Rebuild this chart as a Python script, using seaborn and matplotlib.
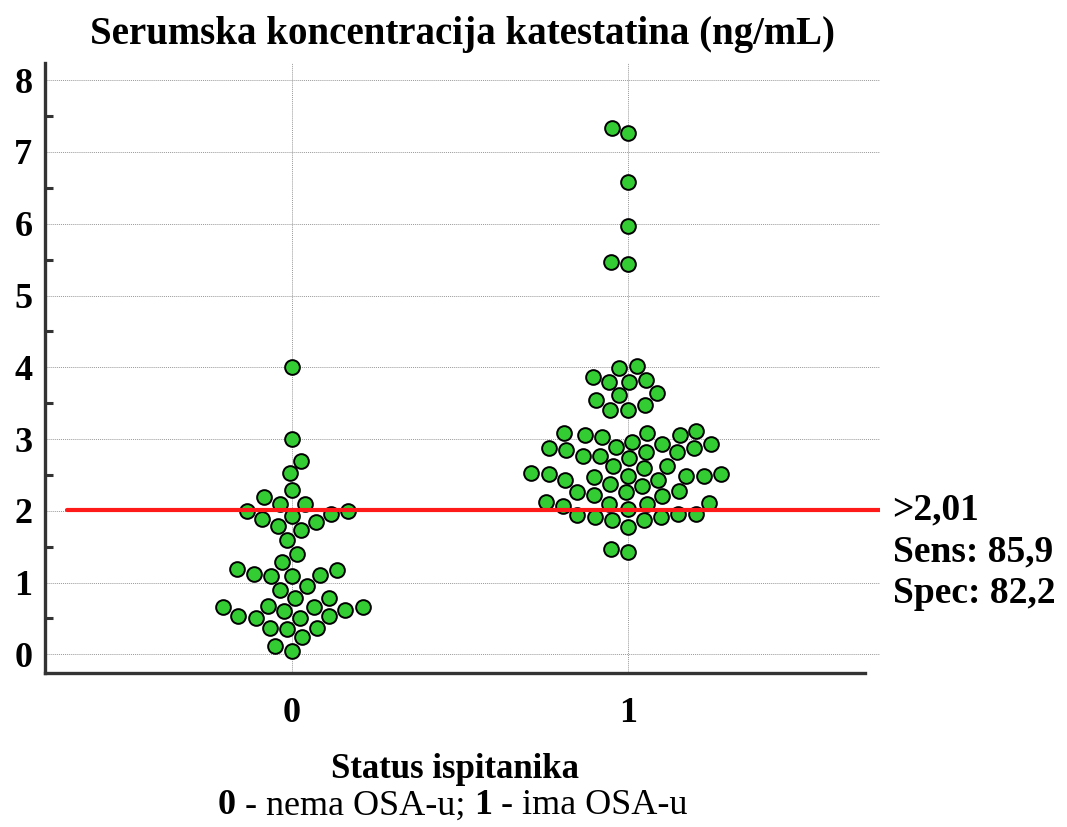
import pandas as pd
import matplotlib
matplotlib.use("Agg")
import matplotlib.pyplot as plt
import seaborn as sns

# Values (ng/mL)
status_labels = ["0", "1"]
group0_values = [4.0, 3.0, 2.69, 2.52, 2.29, 2.19, 2.10, 2.09, 2.0, 2.0, 1.96, 1.93,
                 1.89, 1.84, 1.79, 1.73, 1.59, 1.40, 1.28, 1.19, 1.17, 1.12, 1.11,
                 1.09, 1.09, 0.95, 0.89, 0.78, 0.78, 0.68, 0.66, 0.66, 0.66, 0.62,
                 0.60, 0.54, 0.53, 0.51, 0.51, 0.37, 0.37, 0.36, 0.24, 0.11, 0.05]
group1_values = [7.34, 7.26, 6.58, 5.97, 5.47, 5.44, 4.02, 3.99, 3.87, 3.82, 3.80,
                 3.80, 3.64, 3.61, 3.54, 3.48, 3.41, 3.41, 3.11, 3.08, 3.08, 3.05,
                 3.05, 3.03, 2.96, 2.93, 2.93, 2.89, 2.87, 2.87, 2.85, 2.82, 2.82,
                 2.77, 2.77, 2.73, 2.63, 2.62, 2.59, 2.53, 2.51, 2.51, 2.49, 2.49,
                 2.49, 2.47, 2.43, 2.43, 2.37, 2.34, 2.28, 2.26, 2.26, 2.22, 2.20,
                 2.12, 2.11, 2.10, 2.10, 2.07, 2.03, 1.96, 1.96, 1.94, 1.91, 1.91,
                 1.87, 1.87, 1.78, 1.47, 1.43]
cutoff = 2.01
cutoff_lines = [">2,01", "Sens: 85,9", "Spec: 82,2"]
y_ticks = [0, 1, 2, 3, 4, 5, 6, 7, 8]

title = "Serumska koncentracija katestatina (ng/mL)"
xlabel = "Status ispitanika"
legend_parts = [("0", "bold"), (" - nema OSA-u; ", "normal"),
                ("1", "bold"), (" - ima OSA-u", "normal")]


def main():
    df = pd.DataFrame({
        "status": [status_labels[0]] * len(group0_values)
        + [status_labels[1]] * len(group1_values),
        "value": group0_values + group1_values,
    })

    sns.set_theme(style="white")
    plt.rcParams["font.family"] = ["Liberation Serif", "DejaVu Serif"]
    plt.rcParams["text.color"] = "black"
    plt.rcParams["xtick.labelcolor"] = "black"
    plt.rcParams["ytick.labelcolor"] = "black"

    fig = plt.figure(figsize=(10.67, 8.27), dpi=100)
    ax = fig.add_axes([45 / 1067, 154 / 827, 835 / 1067, 610 / 827])

    sns.swarmplot(
        x="status", y="value", data=df, order=status_labels,
        color="#33cc33", edgecolor="black", linewidth=1.4, size=10.6, ax=ax,
        zorder=3,
    )

    ax.set_xlim(-0.735, 1.75)
    ax.set_ylim(-0.26, 8.24)

    # Cut-off line, drawn over the dots like in the original
    ax.plot([-0.67, 1.75], [cutoff, cutoff], color="#ff1a1a", lw=3, zorder=4)
    for i, line in enumerate(cutoff_lines):
        ax.text(1.015, cutoff - i * 0.58, line, transform=ax.get_yaxis_transform(),
                fontsize=27, fontweight="bold", va="center", ha="left",
                clip_on=False)

    # Grid
    ax.set_yticks(y_ticks)
    ax.set_yticks([v + 0.5 for v in y_ticks[:-1]], minor=True)
    ax.grid(True, which="major", axis="both", linestyle=(0, (1, 1)),
            color="#999999", lw=0.7, zorder=0)
    ax.set_axisbelow(True)

    # Spines and ticks
    sns.despine(ax=ax)
    for side in ["left", "bottom"]:
        ax.spines[side].set_linewidth(2.4)
        ax.spines[side].set_color("#333333")
    ax.spines["bottom"].set_bounds(-0.735, 1.705)
    ax.tick_params(axis="y", which="major", direction="in", length=13, width=2.2,
                   color="#333333", pad=9, labelsize=26)
    ax.tick_params(axis="y", which="minor", direction="in", length=6, width=2.2,
                   color="#333333", left=True)
    ax.tick_params(axis="x", direction="in", length=10, width=2.2,
                   color="#333333", pad=17, labelsize=26)
    for lbl in ax.get_xticklabels() + ax.get_yticklabels():
        lbl.set_fontweight("bold")

    ax.set_xlabel("")
    ax.set_ylabel("")
    ax.set_title(title, fontsize=28, fontweight="bold", pad=14)

    fig.text(455 / 1067, 1 - 770 / 827, xlabel, fontsize=25, fontweight="bold",
             ha="center", va="center")

    # Mixed bold / normal explanation line
    prev = fig.text(218 / 1067, 1 - 806 / 827, legend_parts[0][0], fontsize=26,
                    fontweight=legend_parts[0][1], va="center", ha="left")
    for txt, weight in legend_parts[1:]:
        prev = ax.annotate(txt, xy=(1, 0), xycoords=prev, va="bottom", ha="left",
                           fontsize=26, fontweight=weight, annotation_clip=False)

    fig.savefig("out.png", dpi=100, facecolor="white")
    plt.close(fig)


if __name__ == "__main__":
    main()
